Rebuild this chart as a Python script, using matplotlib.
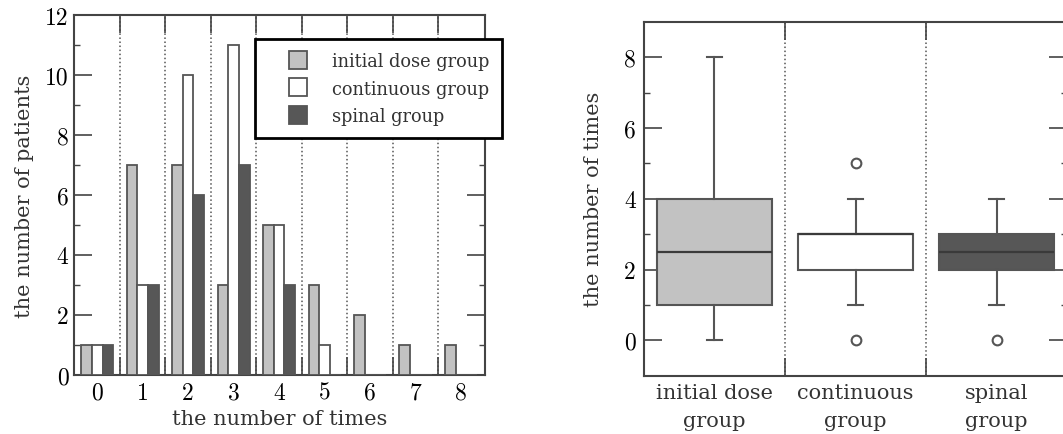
import numpy as np
import matplotlib
matplotlib.use("Agg")
import matplotlib.pyplot as plt
from matplotlib.lines import Line2D

plt.rcParams['font.family'] = ['DejaVu Serif']
plt.rcParams['axes.formatter.use_mathtext'] = True

times = [0, 1, 2, 3, 4, 5, 6, 7, 8]
initial_counts = [1, 7, 7, 3, 5, 3, 2, 1, 1]
continuous_counts = [1, 3, 10, 11, 5, 1, 0, 0, 0]
spinal_counts = [1, 3, 6, 7, 3, 0, 0, 0, 0]
group_names = ["initial dose group", "continuous group", "spinal group"]
box_labels = ["initial dose\ngroup", "continuous\ngroup", "spinal\ngroup"]

c_light = "#c2c2c2"
c_white = "#ffffff"
c_dark = "#575757"
c_edge = "#555555"
c_spine = "#444444"
c_text = "#333333"
tick_font = dict(family='cmr10', size=17)

fig = plt.figure(figsize=(10.63, 4.35), dpi=100)

# ---------- left: bar chart ----------
ax1 = fig.add_axes([0.0696, 0.1363, 0.3867, 0.8269])
x = np.array(times)
w = 0.235
colors = [c_light, c_white, c_dark]
for off, counts, col, name in zip([-w, 0, w],
                                  [initial_counts, continuous_counts, spinal_counts],
                                  colors, group_names):
    ax1.bar(x + off, counts, width=w, color=col, edgecolor=c_edge, linewidth=1.3,
            label=name, zorder=3)
ax1.set_xlim(-0.51, 8.53)
ax1.set_ylim(0, 12)
ax1.set_xticks(np.arange(0.5, 8.5, 1))
ax1.set_xticklabels([])
ax1.set_xticks(times, minor=True)
ax1.set_xticklabels([str(t) for t in times], minor=True, fontdict=tick_font)
ax1.tick_params(axis='x', which='major', direction='in', length=13, width=1.2,
                top=True, bottom=True, color=c_spine)
ax1.tick_params(axis='x', which='minor', length=0, pad=5)
yt = np.arange(0, 13, 2)
ax1.set_yticks(yt)
ax1.set_yticklabels([str(v) for v in yt], fontdict=tick_font)
ax1.set_yticks(np.arange(1, 12, 2), minor=True)
ax1.tick_params(axis='y', which='major', direction='in', length=13, width=1.2,
                left=True, right=True, color=c_spine, pad=4)
ax1.tick_params(axis='y', which='minor', direction='in', length=4, width=1,
                left=True, right=True, color=c_spine)
ax1.grid(axis='x', which='major', linestyle=':', color=c_edge, linewidth=1.1, zorder=1)
for s in ax1.spines.values():
    s.set_color(c_spine)
    s.set_linewidth(1.5)
ax1.set_xlabel("the number of times", fontsize=15, labelpad=4, color=c_text)
ax1.set_ylabel("the number of patients", fontsize=15, labelpad=8, color=c_text)

handles = [Line2D([], [], linestyle='none', marker='s', markersize=13.5,
                  markerfacecolor=c, markeredgecolor=c_edge, markeredgewidth=1.3)
           for c in colors]
leg = ax1.legend(handles, group_names, loc='upper left', bbox_to_anchor=(0.2399, 0.908),
                 bbox_transform=fig.transFigure, prop=dict(family='DejaVu Serif', size=12.8),
                 frameon=True, fancybox=False, edgecolor='black', framealpha=1,
                 handlelength=3.4, handletextpad=0.2, borderpad=0.72,
                 labelspacing=0.55, borderaxespad=0)
leg.get_frame().set_linewidth(2.0)
for t in leg.get_texts():
    t.set_color(c_text)
leg.set_zorder(5)

# ---------- right: box plot ----------
ax2 = fig.add_axes([0.6058, 0.134, 0.398, 0.8138])

def tukey_stats(counts, label):
    d = np.sort(np.repeat(times, counts)).astype(float)
    n = len(d)
    med = np.median(d)
    half = (n + 1) // 2
    q1 = np.median(d[:half])
    q3 = np.median(d[n - half:])
    iqr = q3 - q1
    lo = d[d >= q1 - 1.5 * iqr].min()
    hi = d[d <= q3 + 1.5 * iqr].max()
    fl = d[(d < lo) | (d > hi)]
    return dict(med=med, q1=q1, q3=q3, whislo=lo, whishi=hi, fliers=np.unique(fl), label=label)

stats = [tukey_stats(c, l) for c, l in zip([initial_counts, continuous_counts, spinal_counts], box_labels)]
bp = ax2.bxp(stats, positions=[0, 1, 2], widths=0.81, patch_artist=True,
             boxprops=dict(edgecolor=c_edge, linewidth=1.5),
             medianprops=dict(color='#3a3a3a', linewidth=1.6),
             whiskerprops=dict(color=c_edge, linewidth=1.5),
             capprops=dict(color=c_edge, linewidth=1.5),
             flierprops=dict(marker='o', markersize=7, markerfacecolor='white',
                             markeredgecolor=c_edge, markeredgewidth=1.5),
             capwidths=0.1)
for patch, col in zip(bp['boxes'], colors):
    patch.set_facecolor(col)
ax2.set_xlim(-0.5, 2.5)
ax2.set_ylim(-1, 9)
ax2.set_xticks([0.5, 1.5])
ax2.set_xticklabels([])
ax2.set_xticks([0, 1, 2], minor=True)
ax2.set_xticklabels(box_labels, minor=True, fontsize=15, color=c_text, linespacing=1.6)
ax2.tick_params(axis='x', which='minor', length=0, pad=5)
ax2.tick_params(axis='x', which='major', direction='in', length=13, width=1.2,
                top=True, bottom=True, color=c_spine)
yt2 = np.arange(0, 9, 2)
ax2.set_yticks(yt2)
ax2.set_yticklabels([str(v) for v in yt2], fontdict=tick_font)
ax2.set_yticks(np.arange(1, 8, 2), minor=True)
ax2.tick_params(axis='y', which='major', direction='in', length=13, width=1.2,
                left=True, right=True, color=c_spine, pad=6)
ax2.tick_params(axis='y', which='minor', direction='in', length=4, width=1,
                left=True, right=True, color=c_spine)
ax2.grid(axis='x', which='major', linestyle=':', color=c_edge, linewidth=1.1, zorder=0)
for s in ax2.spines.values():
    s.set_color(c_spine)
    s.set_linewidth(1.5)
ax2.set_ylabel("the number of times", fontsize=15, labelpad=15, color=c_text)

fig.savefig("out.png", dpi=100)
